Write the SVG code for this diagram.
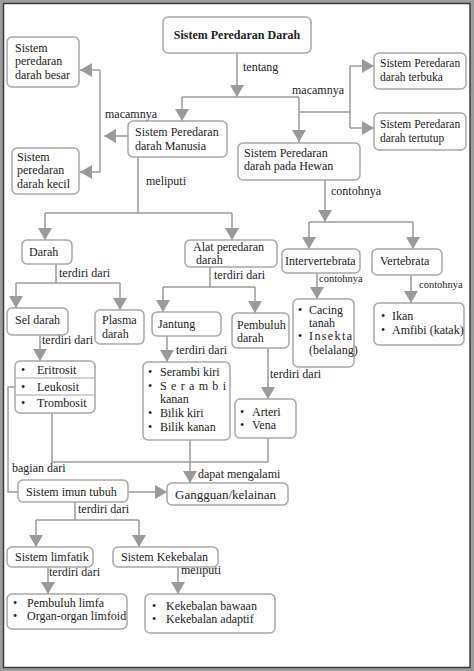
<svg xmlns="http://www.w3.org/2000/svg" width="474" height="671" viewBox="0 0 474 671">
<style>
.n{fill:#fff;stroke:#a8a8a8;stroke-width:1.5}
.t{font-family:"Liberation Serif","Times New Roman",serif;font-size:12px;fill:#222}
.b{font-weight:bold}
.c{fill:none;stroke:#9a9a9a;stroke-width:1.5}
.d{stroke:#a8a8a8;stroke-width:1.2}
</style>
<defs>
<marker id="ah" viewBox="0 0 12 14" refX="12" refY="7" markerWidth="12" markerHeight="14" markerUnits="userSpaceOnUse" orient="auto">
<path d="M0,0 L12,7 L0,14 z" fill="#9a9a9a"/>
</marker>
</defs>
<rect x="0" y="0" width="474" height="671" fill="#9c9c9c"/>
<rect x="3.5" y="3.5" width="466.5" height="664" fill="#fff" stroke="#3a3a3a" stroke-width="1.5"/>

<g id="connectors">
<path class="c" d="M237,53 V97" marker-end="url(#ah)"/>
<path class="c" d="M182,97 H299"/>
<path class="c" d="M182,97 V121" marker-end="url(#ah)"/>
<path class="c" d="M299,97 V142" marker-end="url(#ah)"/>
<path class="c" d="M299,112 H350 M350,66 V128"/>
<path class="c" d="M350,66 H374" marker-end="url(#ah)"/>
<path class="c" d="M350,128 H374" marker-end="url(#ah)"/>
<path class="c" d="M128,136 H104" marker-end="url(#ah)"/>
<path class="c" d="M100,70 V172"/>
<path class="c" d="M100,70 H80" marker-end="url(#ah)"/>
<path class="c" d="M100,172 H80" marker-end="url(#ah)"/>
<path class="c" d="M138,157 V213 M45,213 H232"/>
<path class="c" d="M45,213 V240" marker-end="url(#ah)"/>
<path class="c" d="M232,213 V240" marker-end="url(#ah)"/>
<path class="c" d="M56,264 V283 M16,283 H120"/>
<path class="c" d="M16,283 V308" marker-end="url(#ah)"/>
<path class="c" d="M120,283 V310" marker-end="url(#ah)"/>
<path class="c" d="M210,267 V287 M163,287 H255"/>
<path class="c" d="M163,287 V312" marker-end="url(#ah)"/>
<path class="c" d="M255,287 V313" marker-end="url(#ah)"/>
<path class="c" d="M325,180 V222" marker-end="url(#ah)"/>
<path class="c" d="M309,222 H413"/>
<path class="c" d="M309,222 V249" marker-end="url(#ah)"/>
<path class="c" d="M413,222 V249" marker-end="url(#ah)"/>
<path class="c" d="M317,273 V299" marker-end="url(#ah)"/>
<path class="c" d="M411,275 V303" marker-end="url(#ah)"/>
<path class="c" d="M40,335 V361" marker-end="url(#ah)"/>
<path class="c" d="M167,336 V362" marker-end="url(#ah)"/>
<path class="c" d="M268,348 V399" marker-end="url(#ah)"/>
<path class="c" d="M52,413 V462 H268 V438"/>
<path class="c" d="M190,440 V483" marker-end="url(#ah)"/>
<path class="c" d="M15,387 H8 V492 H18"/>
<path class="c" d="M128,492 H167" marker-end="url(#ah)"/>
<path class="c" d="M75,502 V520 M36,520 H139"/>
<path class="c" d="M36,520 V547" marker-end="url(#ah)"/>
<path class="c" d="M139,520 V547" marker-end="url(#ah)"/>
<path class="c" d="M48,567 V594" marker-end="url(#ah)"/>
<path class="c" d="M178,567 V594" marker-end="url(#ah)"/>
</g>

<g id="labels" class="t">
<text x="243" y="71">tentang</text>
<text x="292" y="94">macamnya</text>
<text x="105" y="118">macamnya</text>
<text x="146" y="185">meliputi</text>
<text x="331" y="195">contohnya</text>
<text x="59" y="277">terdiri dari</text>
<text x="214" y="279">terdiri dari</text>
<text x="319" y="282" style="font-size:10.5px">contohnya</text>
<text x="419" y="288" style="font-size:10.5px">contohnya</text>
<text x="42" y="344">terdiri dari</text>
<text x="176" y="354">terdiri dari</text>
<text x="270" y="378">terdiri dari</text>
<text x="12" y="472">bagian dari</text>
<text x="198" y="478">dapat mengalami</text>
<text x="78" y="513">terdiri dari</text>
<text x="49" y="576">terdiri dari</text>
<text x="181" y="574">meliputi</text>
</g>

<g id="n-top"><rect class="n" x="163" y="17" width="148" height="36" rx="5"/>
<text class="t b" x="237" y="39" text-anchor="middle">Sistem Peredaran Darah</text></g>

<g id="n-besar"><rect class="n" x="7" y="37" width="72" height="50" rx="5"/>
<text class="t" x="15" y="52">Sistem</text><text class="t" x="15" y="65">peredaran</text><text class="t" x="15" y="79">darah besar</text></g>

<g id="n-kecil"><rect class="n" x="12" y="148" width="67" height="46" rx="5"/>
<text class="t" x="17" y="161">Sistem</text><text class="t" x="17" y="174">peredaran</text><text class="t" x="17" y="188">darah kecil</text></g>

<g id="n-manusia"><rect class="n" x="128" y="121" width="99" height="36" rx="5"/>
<text class="t" x="135" y="136">Sistem Peredaran</text><text class="t" x="135" y="150">darah Manusia</text></g>

<g id="n-terbuka"><rect class="n" x="374" y="53" width="92" height="36" rx="5"/>
<text class="t" x="380" y="67" style="font-size:11.5px">Sistem Peredaran</text><text class="t" x="380" y="81" style="font-size:11.5px">darah  terbuka</text></g>

<g id="n-tertutup"><rect class="n" x="374" y="113" width="92" height="37" rx="5"/>
<text class="t" x="380" y="128" style="font-size:11.5px">Sistem Peredaran</text><text class="t" x="380" y="142" style="font-size:11.5px">darah  tertutup</text></g>

<g id="n-hewan"><rect class="n" x="238" y="143" width="122" height="37" rx="5"/>
<text class="t" x="244" y="157">Sistem Peredaran</text><text class="t" x="244" y="170">darah  pada Hewan</text></g>

<g id="n-darah"><rect class="n" x="22" y="240" width="50" height="24" rx="5"/>
<text class="t" x="29" y="256">Darah</text></g>

<g id="n-alat"><rect class="n" x="185" y="240" width="92" height="27" rx="5"/>
<text class="t" x="193" y="251">Alat peredaran</text><text class="t" x="196" y="264">darah</text></g>

<g id="n-interv"><rect class="n" x="282" y="249" width="78" height="24" rx="5"/>
<text class="t" x="285" y="265">Intervertebrata</text></g>

<g id="n-vert"><rect class="n" x="372" y="249" width="70" height="26" rx="5"/>
<text class="t" x="380" y="265">Vertebrata</text></g>

<g id="n-sel"><rect class="n" x="7" y="308" width="61" height="27" rx="5"/>
<text class="t" x="15" y="324">Sel darah</text></g>

<g id="n-plasma"><rect class="n" x="95" y="310" width="49" height="34" rx="5"/>
<text class="t" x="102" y="324">Plasma</text><text class="t" x="102" y="338">darah</text></g>

<g id="n-jantung"><rect class="n" x="152" y="312" width="69" height="24" rx="5"/>
<text class="t" x="158" y="328">Jantung</text></g>

<g id="n-pembuluh"><rect class="n" x="232" y="313" width="57" height="35" rx="5"/>
<text class="t" x="237" y="329">Pembuluh</text><text class="t" x="237" y="342">darah</text></g>

<g id="n-cacing"><rect class="n" x="293" y="299" width="61" height="68" rx="5"/>
<text class="t" x="298" y="314">•</text><text class="t" x="309" y="314">Cacing</text>
<text class="t" x="309" y="327">tanah</text>
<text class="t" x="298" y="340">•</text><text class="t" x="309" y="340" textLength="43">I n s e k t a</text>
<text class="t" x="309" y="354">(belalang)</text></g>

<g id="n-ikan"><rect class="n" x="374" y="303" width="90" height="42" rx="5"/>
<text class="t" x="381" y="320">•</text><text class="t" x="392" y="320">Ikan</text>
<text class="t" x="381" y="334">•</text><text class="t" x="392" y="334">Amfibi (katak)</text></g>

<g id="n-sel-list"><rect class="n" x="15" y="361" width="80" height="52" rx="5"/>
<line class="d" x1="15" y1="378" x2="95" y2="378"/><line class="d" x1="15" y1="395" x2="95" y2="395"/>
<text class="t" x="21" y="374">•</text><text class="t" x="37" y="374">Eritrosit</text>
<text class="t" x="21" y="391">•</text><text class="t" x="37" y="391">Leukosit</text>
<text class="t" x="21" y="407">•</text><text class="t" x="37" y="407">Trombosit</text></g>

<g id="n-serambi"><rect class="n" x="143" y="362" width="87" height="78" rx="5"/>
<text class="t" x="148" y="376">•</text><text class="t" x="160" y="376">Serambi kiri</text>
<text class="t" x="148" y="390">•</text><text class="t" x="160" y="390" textLength="66">S e r a m b i</text>
<text class="t" x="160" y="403">kanan</text>
<text class="t" x="148" y="417">•</text><text class="t" x="160" y="417">Bilik kiri</text>
<text class="t" x="148" y="431">•</text><text class="t" x="160" y="431">Bilik kanan</text></g>

<g id="n-arteri"><rect class="n" x="235" y="399" width="61" height="39" rx="5"/>
<text class="t" x="240" y="416">•</text><text class="t" x="252" y="416">Arteri</text>
<text class="t" x="240" y="429">•</text><text class="t" x="252" y="429">Vena</text></g>

<g id="n-imun"><rect class="n" x="18" y="480" width="110" height="22" rx="5"/>
<text class="t" x="26" y="496">Sistem imun tubuh</text></g>

<g id="n-gangguan"><rect class="n" x="167" y="483" width="121" height="22" rx="5"/>
<text class="t" x="175" y="499" style="font-size:13px">Gangguan/kelainan</text></g>

<g id="n-limfatik"><rect class="n" x="7" y="547" width="86" height="20" rx="5"/>
<text class="t" x="15" y="561">Sistem limfatik</text></g>

<g id="n-kekebalan"><rect class="n" x="113" y="547" width="105" height="20" rx="5"/>
<text class="t" x="121" y="561">Sistem Kekebalan</text></g>

<g id="n-limfa"><rect class="n" x="7" y="594" width="120" height="35" rx="5"/>
<text class="t" x="13" y="607">•</text><text class="t" x="27" y="607">Pembuluh limfa</text>
<text class="t" x="13" y="620">•</text><text class="t" x="27" y="620">Organ-organ limfoid</text></g>

<g id="n-kekebalan-list"><rect class="n" x="145" y="594" width="130" height="39" rx="5"/>
<text class="t" x="152" y="610">•</text><text class="t" x="166" y="610">Kekebalan bawaan</text>
<text class="t" x="152" y="623">•</text><text class="t" x="166" y="623">Kekebalan adaptif</text></g>
</svg>
